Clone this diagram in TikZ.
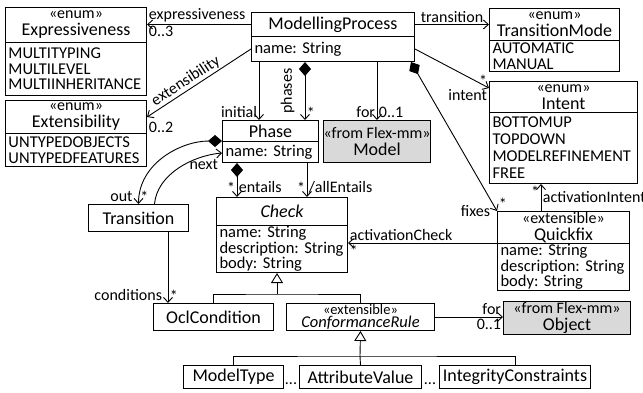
\documentclass[tikz,border=0pt]{standalone}
\usepackage{fontspec}
\setmainfont{Carlito}
\usepackage{tikz}
\usetikzlibrary{arrows.meta}
\definecolor{FlexGray}{RGB}{217,217,217}
\newcommand{\fnm}{\fontsize{18}{17}\selectfont}
\newcommand{\fat}{\fontsize{16.5}{15.7}\selectfont}
\newcommand{\fst}{\fontsize{16}{16}\selectfont}
\newcommand{\flb}{\fontsize{16}{16}\selectfont}
\frenchspacing

\begin{document}
\begin{tikzpicture}[
  x=1pt, y=-1pt,
  font=\flb,
  cls/.style={draw, line width=1pt, anchor=north west, inner sep=0pt,
    align=center, font=\fnm},
  att/.style={draw, line width=1pt, anchor=north west, inner xsep=3pt,
    inner ysep=0.5pt, align=left, font=\fat},
  flex/.style={cls, fill=FlexGray},
  assoc/.style={line width=0.9pt, -{Straight Barb[length=5pt,width=9pt]}},
  comp/.style={line width=0.9pt,
    {Diamond[length=14pt,width=12pt]}-{Straight Barb[length=5pt,width=9pt]}},
  gen/.style={line width=0.9pt, -{Triangle[open,length=10pt,width=12pt,fill=white]}},
  role/.style={font=\flb, inner sep=1.5pt}
]
\useasboundingbox (0,0) rectangle (643,392);

% Classes
\node[cls, minimum width=163pt, minimum height=24pt] (mp) at (251,12) {ModellingProcess};
\node[att, text width=157pt, minimum height=25pt] (mp-att) at (251,36) {name: String};

\node[cls, minimum width=141pt, minimum height=35pt] (expr) at (5,7) {{\fst «enum»}\\Expressiveness};
\node[att, text width=135pt, minimum height=53pt] (expr-att) at (5,42) {MULTITYPING\\MULTILEVEL\\MULTIINHERITANCE};

\node[cls, minimum width=141pt, minimum height=33pt] (ext) at (5,100) {{\fst «enum»}\\Extensibility};
\node[att, text width=135pt, minimum height=33pt] (ext-att) at (5,133) {UNTYPEDOBJECTS\\UNTYPEDFEATURES};

\node[cls, minimum width=130pt, minimum height=32pt] (tm) at (489,8) {{\fst «enum»}\\TransitionMode};
\node[att, text width=124pt, minimum height=31pt] (tm-att) at (489,40) {AUTOMATIC\\MANUAL};

\node[cls, minimum width=148pt, minimum height=31pt] (intent) at (489,81) {{\fst «enum»}\\Intent};
\node[att, text width=142pt, minimum height=71pt, font=\fontsize{16.5}{17}\selectfont] (intent-att) at (489,112)
  {BOTTOMUP\\TOPDOWN\\MODELREFINEMENT\\FREE};

\node[cls, minimum width=96pt, minimum height=21pt] (phase) at (222,120) {Phase};
\node[att, text width=90pt, minimum height=21pt] (phase-att) at (222,141) {name: String};

\node[flex, minimum width=107pt, minimum height=42pt] (model) at (323,120) {{\fst «from Flex-mm»}\\Model};

\node[cls, minimum width=131pt, minimum height=28pt] (check) at (216,197) {\itshape Check};
\node[att, text width=125pt, minimum height=47pt] (check-att) at (216,225)
  {name: String\\description: String\\body: String};

\node[cls, minimum width=100pt, minimum height=27pt] (tr) at (88,204) {Transition};

\node[cls, minimum width=132pt, minimum height=32pt] (qf) at (497,211) {{\fst «extensible»}\\Quickfix};
\node[att, text width=126pt, minimum height=47pt] (qf-att) at (497,243)
  {name: String\\description: String\\body: String};

\node[cls, minimum width=120pt, minimum height=27pt] (ocl) at (153,303) {OclCondition};
\node[cls, minimum width=148pt, minimum height=27pt, font=\fontsize{16.5}{13}\selectfont] (cr) at (286,303)
  {{\fontsize{14.5}{13}\selectfont «extensible»}\\{\itshape ConformanceRule}};
\node[flex, minimum width=127pt, minimum height=33pt] (obj) at (503,301) {{\fst «from Flex-mm»}\\Object};

\node[cls, minimum width=100pt, minimum height=23pt] (mt) at (183,365) {ModelType};
\node[cls, minimum width=122pt, minimum height=23pt] (av) at (299,365) {AttributeValue};
\node[cls, minimum width=151pt, minimum height=23pt] (ic) at (439,365) {IntegrityConstraints};
\node[anchor=base] (dots1) at (291,384) {...};
\node[anchor=base] (dots2) at (430,384) {...};

% Associations of ModellingProcess
\draw[assoc] (mp.west) -- (mp.west -| expr.east)
  node[role, pos=1, above right] {expressiveness}
  node[role, pos=1, below right] {0..3};
\draw[assoc] (mp-att.west) -- (ext.east)
  node[role, pos=0.58, sloped, above] {extensibility}
  node[role, pos=1, below right, yshift=-3pt] {0..2};
\draw[assoc] (mp.east) -- (mp.east -| tm.west)
  node[role, midway, above] {transition};
\draw[assoc] (mp-att.east) -- ([yshift=-7pt]intent.north west)
  node[role, pos=1, above left] {*}
  node[role, pos=1, below left] {intent};
\draw[assoc] ([xshift=8pt]mp-att.south west) -- ([xshift=8pt]mp-att.south west |- phase.north)
  node[role, pos=1, above left] {initial};
\draw[comp] ([xshift=54pt]mp-att.south west) -- ([xshift=54pt]mp-att.south west |- phase.north)
  node[role, pos=0.5, anchor=south, rotate=90, inner ysep=10pt] {phases}
  node[role, pos=1, above right] {*};
\draw[assoc] ([xshift=126pt]mp-att.south west) -- ([xshift=126pt]mp-att.south west |- model.north)
  node[role, pos=1, above left] {for}
  node[role, pos=1, above right] {0..1};
\draw[comp] ([xshift=-4pt]mp-att.south east) -- (qf.north west)
  node[role, pos=1, above right] {*}
  node[role, pos=1, left, xshift=-5pt] {fixes};

% Quickfix
\draw[assoc] ([xshift=44pt]qf.north west) -- ([xshift=44pt]qf.north west |- intent-att.south)
  node[role, pos=1, below left] {*}
  node[role, pos=0.5, right] {activationIntent};
\draw[assoc] (qf-att.north west) -- (qf-att.north west -| check-att.east)
  node[role, pos=1, above right] {activationCheck}
  node[role, pos=1, below right] {*};

% Phase and Transition
\draw[comp] (phase-att.north west) to[out=180, in=90]
  node[role, pos=1, above left, xshift=-4pt] {out}
  node[role, pos=1, above right] {*} (tr.north);
\draw[assoc] ([xshift=16pt]tr.north) to[out=85, in=185, looseness=0.9]
  node[role, pos=1, below left, xshift=-2pt, yshift=-4pt] {next} ([yshift=-12pt]phase-att.north west);
\draw[comp] ([xshift=15pt]phase-att.south west) -- ([xshift=15pt]phase-att.south west |- check.north)
  node[role, pos=0.72, left] {*}
  node[role, pos=0.72, right] {entails};
\draw[assoc] ([xshift=85pt]phase-att.south west) -- ([xshift=85pt]phase-att.south west |- check.north)
  node[role, pos=0.72, left] {*}
  node[role, pos=0.72, right] {/allEntails};
\draw[assoc] ([xshift=80pt]tr.south west) -- ([xshift=80pt]tr.south west |- ocl.north)
  node[role, pos=1, above left, xshift=-4pt] {conditions}
  node[role, pos=1, above right] {*};

% Generalisations
\coordinate (chkjoin) at (277,294);
\draw[line width=0.9pt] ([xshift=60pt]ocl.north west) |- (chkjoin) -| ([xshift=74pt]cr.north west);
\draw[gen] (chkjoin) -- (chkjoin |- check-att.south);

\coordinate (crjoin) at (360,356);
\draw[line width=0.9pt] (mt.north) |- (crjoin) -| (ic.north);
\draw[line width=0.9pt] (av.north) -- (crjoin);
\draw[gen] (crjoin) -- (cr.south);

\draw[assoc] (cr.east) -- (cr.east -| obj.west)
  node[role, pos=1, above left] {for}
  node[role, pos=1, below left] {0..1};
\end{tikzpicture}
\end{document}
